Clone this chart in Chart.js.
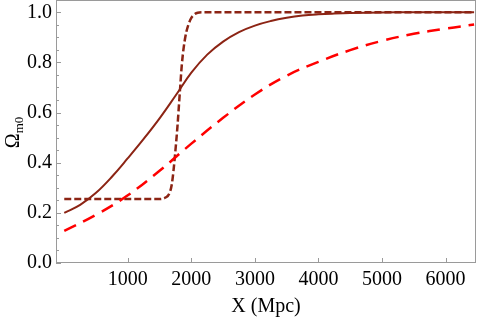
<!DOCTYPE html>
<html>
<head>
<meta charset="utf-8">
<script src="https://cdn.jsdelivr.net/npm/chart.js@4"></script>
<style>
  html, body { margin: 0; padding: 0; background: #fff; }
  #wrap { width: 482px; height: 319px; }
</style>
</head>
<body>
<div id="wrap"><canvas id="chart" width="482" height="319"></canvas></div>
<script>
// ── valores ──
const xSolid = [0, 250, 500, 750, 1000, 1250, 1500, 1750, 2000, 2250, 2500, 2750, 3000, 3250, 3500, 3750, 4000, 4250, 4500, 5000, 5500, 6450];
const ySolid = [0.200, 0.232, 0.280, 0.344, 0.418, 0.495, 0.577, 0.667, 0.759, 0.831, 0.883, 0.921, 0.947, 0.965, 0.978, 0.987, 0.992, 0.995, 0.997, 0.999, 1.0, 1.0];

const xStep = [0, 500, 1000, 1400, 1500, 1600, 1650, 1690, 1720, 1750, 1780, 1820, 1850, 1880, 1920, 1960, 2000, 2050, 2100, 2200, 3000, 4000, 5000, 6450];
const yStep = [0.255, 0.255, 0.255, 0.255, 0.255, 0.262, 0.275, 0.310, 0.370, 0.450, 0.540, 0.685, 0.790, 0.860, 0.920, 0.955, 0.978, 0.992, 0.998, 1.0, 1.0, 1.0, 1.0, 1.0];

const xLong = [0, 500, 1000, 1500, 2000, 2500, 3000, 3500, 4000, 4500, 5000, 5500, 6000, 6450];
const yLong = [0.128, 0.192, 0.270, 0.368, 0.476, 0.579, 0.672, 0.747, 0.802, 0.849, 0.886, 0.914, 0.935, 0.951];

const xTicks = [1000, 2000, 3000, 4000, 5000, 6000];
const yTicks = [0.0, 0.2, 0.4, 0.6, 0.8, 1.0];
const yMinorTicks = [0.05, 0.1, 0.15, 0.25, 0.3, 0.35, 0.45, 0.5, 0.55, 0.65, 0.7, 0.75, 0.85, 0.9, 0.95, 1.05];

const SERIF = '"Liberation Serif", "DejaVu Serif", serif';
const DARK = '#8c2414';
const RED  = '#ff0000';

const pts = (xs, ys) => xs.map((x, i) => ({ x, y: ys[i] }));

// ── marco estilo Mathematica + ticks hacia dentro + etiqueta Y ──
const framePlugin = {
  id: 'frame',
  beforeDatasetsDraw(chart) {
    const { ctx, chartArea: a, scales } = chart;
    ctx.save();
    ctx.strokeStyle = '#9a9a9a';
    ctx.lineWidth = 1;
    ctx.strokeRect(a.left + 0.5, a.top + 0.5, a.right - a.left - 1, a.bottom - a.top - 1);

    ctx.beginPath();
    xTicks.forEach(v => {
      const px = Math.round(scales.x.getPixelForValue(v)) + 0.5;
      ctx.moveTo(px, a.bottom);
      ctx.lineTo(px, a.bottom - 5);
    });
    yTicks.forEach(v => {
      const py = Math.round(scales.y.getPixelForValue(v)) + 0.5;
      ctx.moveTo(a.left, py);
      ctx.lineTo(a.left + 5, py);
    });
    yMinorTicks.forEach(v => {
      const py = Math.round(scales.y.getPixelForValue(v)) + 0.5;
      ctx.moveTo(a.left, py);
      ctx.lineTo(a.left + 3, py);
    });
    ctx.stroke();
    ctx.restore();
  },
  afterDraw(chart) {
    const { ctx, chartArea: a } = chart;
    ctx.save();
    ctx.fillStyle = '#000';
    ctx.font = `20px ${SERIF}`;
    const wOmega = ctx.measureText('Ω').width;
    ctx.font = `13px ${SERIF}`;
    const wSub = ctx.measureText('m0').width;
    const cy = (a.top + a.bottom) / 2 + 1;
    ctx.translate(18.5, cy + (wOmega + wSub) / 2);
    ctx.rotate(-Math.PI / 2);
    ctx.textBaseline = 'alphabetic';
    ctx.font = `20px ${SERIF}`;
    ctx.fillText('Ω', 0, 0);
    ctx.font = `13px ${SERIF}`;
    ctx.fillText('m0', wOmega, 4.5);
    ctx.restore();
  }
};

// sin relleno automático alrededor de las escalas
const noPad = s => { s.paddingTop = 0; s.paddingBottom = 0; s.paddingLeft = 0; s.paddingRight = 0; };

new Chart(document.getElementById('chart'), {
  type: 'line',
  data: {
    datasets: [
      {
        data: pts(xLong, yLong),
        borderColor: RED,
        borderWidth: 2.5,
        borderDash: [13, 8],
        pointRadius: 0,
        tension: 0.4,
        fill: false
      },
      {
        data: pts(xStep, yStep),
        borderColor: DARK,
        borderWidth: 2.5,
        borderDash: [7, 3],
        pointRadius: 0,
        cubicInterpolationMode: 'monotone',
        fill: false
      },
      {
        data: pts(xSolid, ySolid),
        borderColor: DARK,
        borderWidth: 2,
        pointRadius: 0,
        tension: 0.4,
        fill: false
      }
    ]
  },
  options: {
    responsive: false,
    animation: false,
    devicePixelRatio: 1,
    layout: { padding: { left: 0, right: 6, top: 0, bottom: 0 } },
    plugins: { legend: { display: false }, tooltip: { enabled: false } },
    scales: {
      x: {
        type: 'linear',
        min: -130,
        max: 6480,
        grid: { display: false, drawTicks: false },
        border: { display: false },
        afterBuildTicks: s => { s.ticks = xTicks.map(v => ({ value: v })); },
        afterFit: s => { s.height = 56; noPad(s); },
        ticks: {
          padding: 5,
          maxRotation: 0,
          autoSkip: false,
          color: '#000',
          font: { family: SERIF, size: 20 },
          callback: v => String(v)
        },
        title: {
          display: true,
          text: 'X (Mpc)',
          color: '#000',
          font: { family: SERIF, size: 20 },
          padding: { top: 0, bottom: 0 }
        }
      },
      y: {
        type: 'linear',
        min: 0,
        max: 1.049,
        grid: { display: false, drawTicks: false },
        border: { display: false },
        afterBuildTicks: s => { s.ticks = yTicks.map(v => ({ value: v })); },
        afterFit: s => { s.width = 56; noPad(s); },
        ticks: {
          padding: 4,
          autoSkip: false,
          color: '#000',
          font: { family: SERIF, size: 20 },
          callback: v => v.toFixed(1)
        }
      }
    }
  },
  plugins: [framePlugin]
});
</script>
</body>
</html>
